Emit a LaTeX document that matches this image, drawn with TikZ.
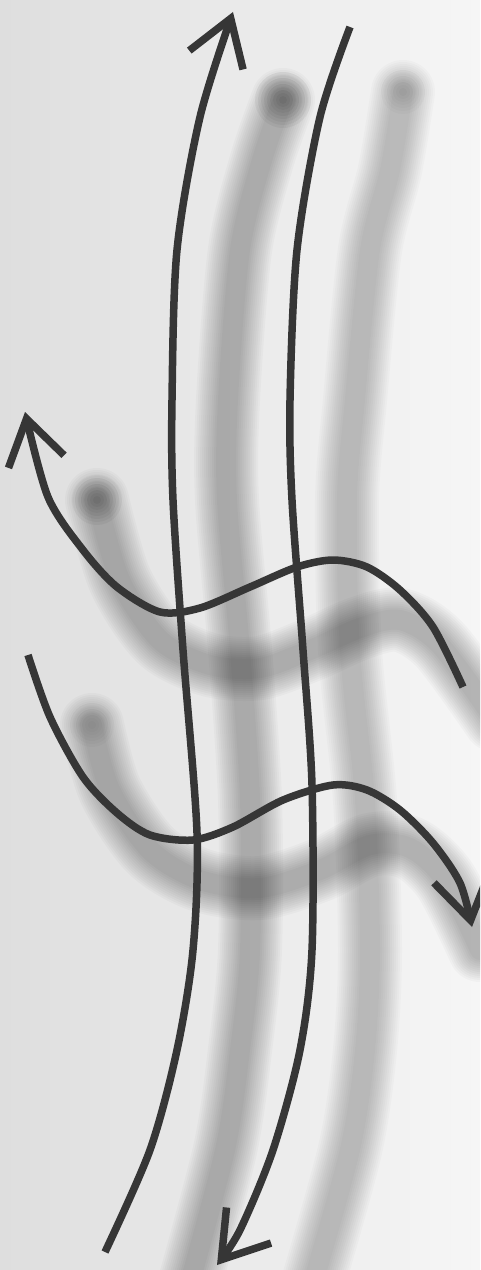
\documentclass[tikz,border=0pt]{standalone}
\usepackage{tikz}
\usetikzlibrary{arrows.meta}
\definecolor{ink}{HTML}{363636}
\definecolor{paperL}{HTML}{DEDEDE}
\definecolor{paperR}{HTML}{F6F6F6}

\begin{document}
\begin{tikzpicture}[x=0.02cm, y=-0.02cm,
  strand/.style={draw=ink, line width=0.15cm},
  headon/.style={-{Straight Barb[length=0.88cm, width=1.14cm]}},
  haze/.style={draw=black, opacity=#1, line cap=round, line join=round},
  spot/.style={fill=black, opacity=#1}]
\useasboundingbox (0,0) rectangle (480,1270);
\clip (0,0) rectangle (480,1270);
\shade[left color=paperL, right color=paperR] (0,0) rectangle (480,1270);
% shadows of the two long strands
\foreach \w in {20,24,...,64}
  \draw[haze=0.024, line width=\w*0.02cm] plot[smooth] coordinates {(283,100) (262,160) (240,250) (228,400) (227,500) (240,650) (250,800) (250,950) (240,1050) (225,1150) (185,1300)};
\foreach \w in {20,24,...,64}
  \draw[haze=0.018, line width=\w*0.02cm] plot[smooth] coordinates {(403,92) (390,170) (370,250) (355,400) (347,500) (350,650) (365,800) (370,950) (365,1050) (350,1150) (308,1300)};
% shadows of the two wavy strands
\foreach \w in {20,24,...,64}
  \draw[haze=0.024, line width=\w*0.02cm] plot[smooth] coordinates {(97,500) (120,580) (160,640) (210,665) (260,668) (310,650) (360,628) (400,620) (440,645) (495,720)};
\foreach \w in {20,24,...,64}
  \draw[haze=0.022, line width=\w*0.02cm] plot[smooth] coordinates {(92,725) (110,790) (150,850) (200,880) (260,888) (320,870) (370,845) (410,848) (445,880) (480,950)};
% darker ends
\foreach \r in {4,7,...,28} \fill[spot=0.045] (283,100) circle[radius=\r*0.02cm];
\foreach \r in {4,7,...,22} \fill[spot=0.02] (403,92) circle[radius=\r*0.02cm];
\foreach \r in {4,7,...,25} \fill[spot=0.045] (97,500) circle[radius=\r*0.02cm];
\foreach \r in {4,7,...,22} \fill[spot=0.02] (92,725) circle[radius=\r*0.02cm];
% strands
\draw[strand, headon] plot[smooth] coordinates {(105,1252) (150,1150) (177,1050) (193,950) (197,833) (183,650) (173,500) (172,400) (177,250) (200,117) (233,12)};
\draw[strand, headon] plot[smooth] coordinates {(350,27) (320,117) (297,250) (290,400) (292,500) (303,650) (312,785) (312,950) (300,1050) (273,1150) (240,1230) (217,1265)};
\draw[strand, headon] plot[smooth] coordinates {(463,687) (433,627) (400,590) (367,567) (333,560) (297,567) (250,587) (200,608) (160,612) (117,587) (83,550) (48,497) (25,412)};
\draw[strand, headon] plot[smooth] coordinates {(28,655) (50,717) (83,777) (117,813) (150,835) (193,840) (233,827) (283,800) (333,785) (367,790) (400,810) (433,843) (460,883) (472,927)};
\end{tikzpicture}
\end{document}
